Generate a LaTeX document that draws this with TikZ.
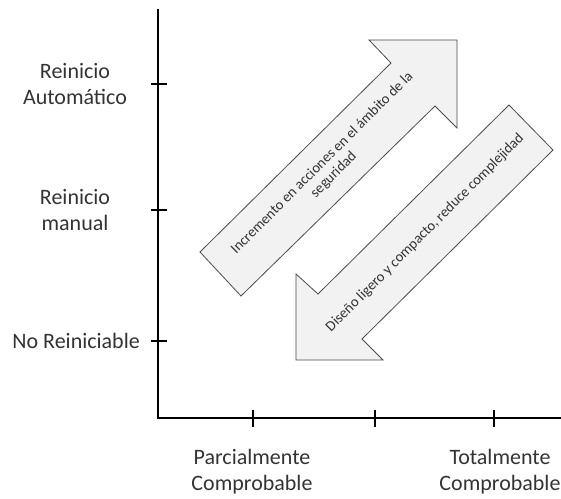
\documentclass[tikz,border=0pt]{standalone}
\usepackage{fontspec}
\setmainfont{Carlito}
\usetikzlibrary{positioning}
\tikzset{
    axislabel/.style = {align=center, text=black!80, inner sep=0pt,
                        font=\fontsize{22}{26}\selectfont},
    arrowbody/.style = {draw=black!70, fill=black!5, line width=0.8pt, line join=miter},
    arrowtext/.style = {align=center, rotate=45, text=black!80, inner sep=0pt,
                        font=\fontsize{14.6}{16.5}\selectfont},
    axisline/.style = {line width=1.6pt, line join=miter},
    tickmark/.style = {line width=1.6pt}
}

\begin{document}
\begin{tikzpicture}[x=1pt, y=1pt]
		\useasboundingbox (0,0) rectangle (561,498);
		\coordinate (ytop) at (158,489);
		\coordinate (origin) at (158,80);
		\coordinate (xend) at (561,80);
		\draw [axisline] (ytop) -- (origin) -- (xend);
		\foreach \name/\y in {auto/414, manual/288, none/157}{
			\coordinate (y\name) at (158,\y);
			\draw [tickmark] ([xshift=-7pt]y\name) -- ([xshift=9pt]y\name);
		}
		\foreach \name/\x in {partial/253, middle/375, total/494}{
			\coordinate (x\name) at (\x,80);
			\draw [tickmark] ([yshift=-9pt]x\name) -- ([yshift=8pt]x\name);
		}
		\node (lauto) [axislabel] at (75,414) {Reinicio\\Automático};
		\node (lmanual) [axislabel] at (75,288) {Reinicio\\manual};
		\node (lnone) [axislabel, anchor=east] at (140,157) {No Reiniciable};
		\node (lpartial) [axislabel] at (252,26) {Parcialmente\\Comprobable};
		\node (ltotal) [axislabel] at (500,26) {Totalmente\\Comprobable};
		\draw [arrowbody] (457,458) -- (369,458) -- (391,435) -- (200,246)
			-- (241,202) -- (435,392) -- (457,370) -- cycle;
		\node (tup) [arrowtext] at (328,329) {Incremento en acciones en el ámbito de la\\seguridad};
		\draw [arrowbody] (296,138) -- (296,224) -- (318,204) -- (509,393)
			-- (553,348) -- (362,159) -- (383,138) -- cycle;
		\node (tdown) [arrowtext] at (425,265) {Diseño ligero y compacto, reduce complejidad};
	\end{tikzpicture}
\end{document}
